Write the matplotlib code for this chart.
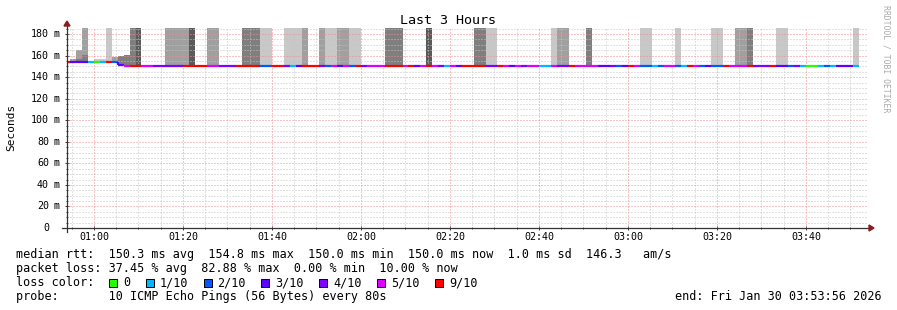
import numpy as np
import matplotlib
matplotlib.use("Agg")
import matplotlib.pyplot as plt
from matplotlib.collections import LineCollection
from matplotlib.patches import Rectangle, Polygon
from matplotlib.transforms import offset_copy, blended_transform_factory

# time window of the graph and rrd step
window_start = "00:53:56"
window_end = "03:53:56"
first_step_end = "00:54:40"
step_seconds = 80

# median rtt (ms) as runs of (steps, value)
median_runs = [(8, 154.5), (1, 154.0), (1, 151.0), (124, 150.0)]

# lost pings out of 10, as runs of (steps, lost)
loss_runs = [
    (1, 9), (3, 3), (1, 1), (1, 0), (1, 1), (1, 9), (1, 2), (1, 3), (1, 5),
    (2, 9), (2, 5), (5, 4), (4, 9), (2, 5), (3, 4), (4, 9), (2, 2), (2, 9),
    (1, 4), (1, 1), (1, 3), (3, 9), (1, 4), (1, 2), (1, 5), (1, 3), (1, 5),
    (1, 2), (1, 9), (1, 4), (3, 5), (3, 9), (1, 5), (1, 9), (1, 3), (1, 5),
    (1, 9), (1, 5), (1, 4), (1, 1), (1, 5), (1, 3), (4, 9), (2, 4), (1, 9),
    (1, 5), (1, 3), (1, 5), (1, 4), (2, 5), (2, 1), (1, 5), (2, 4), (1, 9),
    (4, 5), (2, 3), (1, 4), (1, 2), (1, 3), (1, 9), (1, 5), (2, 2), (1, 1),
    (1, 2), (2, 5), (1, 2), (1, 1), (1, 9), (1, 5), (1, 2), (1, 3), (2, 2),
    (1, 9), (3, 5), (1, 9), (3, 4), (1, 9), (2, 3), (1, 2), (1, 4), (1, 1),
    (2, 0), (1, 1), (1, 2), (1, 1), (3, 3), (1, 1),
]

loss_colors = {0: "#26ff00", 1: "#00b8ff", 2: "#0059ff", 3: "#5e00ff",
               4: "#7e00ff", 5: "#dd00ff", 9: "#ff0000"}
legend_losses = [0, 1, 2, 3, 4, 5, 9]

# smoke blocks: (first step, steps, low ms, high ms, shade)
smoke = [
    (1, 1, 154.5, 156.5, "M"), (2, 1, 154.5, 156.8, "D"), (2, 1, 156.8, 165.0, "M"),
    (3, 1, 154.5, 161.0, "D"), (3, 1, 161.0, 200, "M"), (5, 1, 154.5, 156.5, "L"),
    (6, 1, 154.5, 157.0, "L"), (7, 1, 154.5, 200, "L"), (8, 1, 154.0, 158.6, "M"),
    (9, 1, 151.0, 160.0, "D"), (10, 1, 150.0, 161.0, "D"), (11, 1, 150.0, 200, "D"),
    (12, 1, 150.0, 200, "X"), (17, 4, 150.0, 200, "M"), (21, 1, 150.0, 200, "X"),
    (24, 2, 150.0, 200, "M"), (30, 3, 150.0, 200, "D"), (33, 2, 150.0, 200, "L"),
    (37, 3, 150.0, 200, "L"), (40, 1, 150.0, 200, "M"), (43, 1, 150.0, 200, "M"),
    (44, 2, 150.0, 200, "L"), (46, 2, 150.0, 200, "M"), (48, 2, 150.0, 200, "L"),
    (54, 3, 150.0, 200, "D"), (61, 1, 150.0, 200, "X"), (69, 2, 150.0, 200, "D"),
    (71, 2, 150.0, 200, "L"), (82, 1, 150.0, 200, "L"), (83, 2, 150.0, 200, "M"),
    (88, 1, 150.0, 200, "D"), (97, 2, 150.0, 200, "L"), (103, 1, 150.0, 200, "L"),
    (109, 2, 150.0, 200, "L"), (113, 2, 150.0, 200, "M"), (115, 1, 150.0, 200, "D"),
    (120, 2, 150.0, 200, "L"), (133, 1, 150.0, 200, "L"),
]
shade_colors = {"L": "#c8c8c8", "M": "#a0a0a0", "D": "#7f7f7f", "X": "#5a5a5a"}

y_max = 185.6
y_ticks = [0, 20, 40, 60, 80, 100, 120, 140, 160, 180]
y_labels = ["0", "20", "40", "60", "80", "100", "120", "140", "160", "180"]
x_labels = ["01:00", "01:20", "01:40", "02:00", "02:20", "02:40", "03:00", "03:20", "03:40"]

title = "Last 3 Hours"
legend_rows = [
    "median rtt:  150.3 ms avg  154.8 ms max  150.0 ms min  150.0 ms now  1.0 ms sd  146.3   am/s",
    "packet loss: 37.45 % avg  82.88 % max  0.00 % min  10.00 % now",
    "loss color:",
    "probe:       10 ICMP Echo Pings (56 Bytes) every 80s",
]
end_text = "end: Fri Jan 30 03:53:56 2026"


def clock(s):
    h, m, sec = map(int, s.split(":"))
    return h * 60 + m + sec / 60.0


t0 = clock(window_start)
t1 = clock(window_end)
tb = clock(first_step_end)
step_min = step_seconds / 60.0

median = np.repeat([v for n, v in median_runs], [n for n, v in median_runs])
loss = np.repeat([v for n, v in loss_runs], [n for n, v in loss_runs])
nsteps = min(len(median), len(loss))


def step_start(k):
    return t0 if k == 0 else tb + (k - 1) * step_min


def step_end(k):
    return tb + k * step_min


W, H = 897, 310
mono = "DejaVu Sans Mono"
fig = plt.figure(figsize=(W / 100, H / 100), dpi=100)
fig.patch.set_facecolor("white")
ax = fig.add_axes([67 / W, (H - 228) / H, 801 / W, 200 / H])
ax.set_xlim(t0, t1)
ax.set_ylim(0, y_max)
for s in ax.spines.values():
    s.set_visible(False)

# smoke
for k, n, lo, hi, sh in smoke:
    x0 = step_start(k)
    ax.bar(x0, hi - lo, width=step_end(k + n - 1) - x0, bottom=lo, align="edge",
           color=shade_colors[sh], linewidth=0, zorder=1)

# grid (dotted, on top of the smoke)
grid_minor = "#c4c4c4"
grid_major = "#f08c8c"
dots = (0, (1, 2))
x_major = [clock(l + ":00") for l in x_labels]
for v in np.arange(5, y_max, 5):
    if v in y_ticks:
        continue
    ax.axhline(v, color=grid_minor, lw=0.72, ls=dots, zorder=2)
for v in np.arange(55, t1, 5):
    if v in x_major or v < t0:
        continue
    ax.axvline(v, color=grid_minor, lw=0.72, ls=dots, zorder=2)
for v in y_ticks[1:]:
    ax.axhline(v, color=grid_major, lw=0.72, ls=dots, zorder=2.1)
for v in x_major:
    ax.axvline(v, color=grid_major, lw=0.72, ls=dots, zorder=2.1)

# median line coloured by loss
segs, cols = [], []
for k in range(nsteps):
    c = loss_colors[loss[k]]
    segs.append([(step_start(k), median[k]), (step_end(k), median[k])])
    cols.append(c)
    if k > 0 and median[k] != median[k - 1]:
        segs.append([(step_start(k), median[k - 1]), (step_start(k), median[k])])
        cols.append(c)
ax.add_collection(LineCollection(segs, colors=cols, linewidths=1.6,
                                 capstyle="butt", zorder=3))

# axes lines, arrows and ticks
axis_col = "#333333"
arrow_col = "#8e1b1b"
px_x = 1 / 801
px_y = 1 / 200
ax.plot([-5 * px_x, 1 + 2 * px_x], [0, 0], color=axis_col, lw=0.9,
        transform=ax.transAxes, clip_on=False, zorder=4)
ax.plot([0, 0], [-4 * px_y, 1 + 3 * px_y], color=axis_col, lw=0.9,
        transform=ax.transAxes, clip_on=False, zorder=4)
ax.add_patch(Polygon([(-3 * px_x, 1 + 2 * px_y), (3 * px_x, 1 + 2 * px_y), (0, 1 + 7 * px_y)],
                     closed=True, color=arrow_col, transform=ax.transAxes, clip_on=False, zorder=5))
ax.add_patch(Polygon([(1 + 1 * px_x, 3 * px_y), (1 + 1 * px_x, -3 * px_y), (1 + 6 * px_x, 0)],
                     closed=True, color=arrow_col, transform=ax.transAxes, clip_on=False, zorder=5))

ax.set_xticks(x_major)
ax.set_xticks([v for v in np.arange(55, t1, 5) if v >= t0], minor=True)
ax.set_yticks(y_ticks)
ax.set_yticks(np.arange(0, y_max, 5), minor=True)
ax.set_xticklabels([])
ax.set_yticklabels([])
ax.tick_params(which="major", direction="inout", length=3, width=0.7, color=axis_col)
ax.tick_params(which="minor", direction="inout", length=1.5, width=0.7, color=axis_col)

# tick labels
tick_fs = 7.2
for pos, lab in zip(x_major, x_labels):
    ax.text(pos, 0, lab, transform=offset_copy(ax.transData, fig=fig, y=-9.5, units="dots"),
            ha="center", va="center", fontsize=tick_fs, family=mono)
ytrans = blended_transform_factory(ax.transAxes, ax.transData)
for v, lab in zip(y_ticks, y_labels):
    ax.text(0, v, lab, transform=offset_copy(ytrans, fig=fig, x=-18, units="dots"),
            ha="right", va="center", fontsize=tick_fs, family=mono)
    if v != 0:
        ax.text(0, v, "m", transform=offset_copy(ytrans, fig=fig, x=-13.5, units="dots"),
                ha="left", va="center", fontsize=tick_fs, family=mono)

fig.text(448 / W, 1 - 20 / H, title, ha="center", va="center", fontsize=9.6, family=mono)
fig.text(11 / W, 1 - 127 / H, "Seconds", ha="center", va="center", rotation=90,
         fontsize=8, family=mono)
fig.text(886 / W, 1 - 5 / H, "RRDTOOL / TOBI OETIKER", ha="center", va="top", rotation=270,
         fontsize=5.9, family=mono, color="#aaaaaa")

# legend
leg_fs = 8.5
char_w = 7.1
row_y = [254.5, 268.3, 282.5, 296.5]
for yy, txt in zip(row_y, legend_rows):
    fig.text(16 / W, 1 - yy / H, txt, ha="left", va="center", fontsize=leg_fs, family=mono)
bx = 109
for lv in legend_losses:
    lab = "0" if lv == 0 else "%d/10" % lv
    fig.patches.append(Rectangle((bx / W, 1 - (row_y[2] + 4) / H), 8 / W, 8 / H,
                                 transform=fig.transFigure, facecolor=loss_colors[lv],
                                 edgecolor="black", linewidth=0.72))
    tx = bx + 14
    fig.text(tx / W, 1 - row_y[2] / H, lab, ha="left", va="center", fontsize=leg_fs, family=mono)
    bx = tx + len(lab) * char_w + 15.5
fig.text(882 / W, 1 - row_y[3] / H, end_text, ha="right", va="center", fontsize=leg_fs, family=mono)

fig.savefig("out.png", dpi=100)
